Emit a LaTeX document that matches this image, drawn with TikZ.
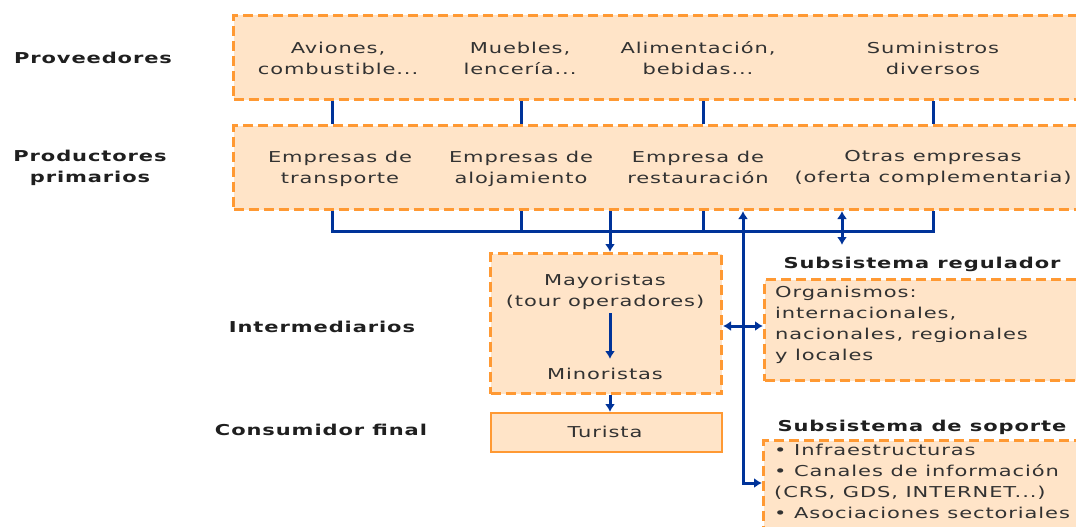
\documentclass[tikz,border=0pt]{standalone}
\usepackage{fontspec}
\setmainfont{DejaVu Sans}[FakeStretch=1.4,LetterSpace=6]
\usetikzlibrary{arrows.meta}
\definecolor{peach}{RGB}{255,228,200}
\definecolor{orng}{RGB}{255,153,51}
\definecolor{navy}{RGB}{0,51,153}
\definecolor{txtgray}{RGB}{50,50,50}
\begin{document}
\begin{tikzpicture}[x=1pt,y=-1pt,
 dbox/.style={draw=orng, fill=peach, line width=3pt, dash pattern=on 10pt off 5pt, inner sep=0pt, anchor=north west},
 sbox/.style={draw=orng, fill=peach, line width=1.6pt, inner sep=0pt, anchor=north west},
 txt/.style={text=txtgray, font=\fontsize{15}{21}\selectfont, align=center, inner sep=0pt,
   execute at begin node=\strut, execute at end node=\strut},
 lbl/.style={text=black!88, font=\fontsize{15}{21}\selectfont\bfseries, align=center, inner sep=0pt,
   execute at begin node=\strut, execute at end node=\strut},
 conn/.style={draw=navy, line width=3pt},
 arr/.style={conn, -{Latex[length=8pt,width=10pt]}},
 darr/.style={conn, {Latex[length=8pt,width=10pt]}-{Latex[length=8pt,width=10pt]}},
]
\useasboundingbox (0,0) rectangle (1076,527);
\clip (0,0) rectangle (1076,527);

% boxes
\node[dbox, minimum width=860pt, minimum height=84pt] (prov) at (232,14) {};
\node[dbox, minimum width=860pt, minimum height=84pt] (prod) at (232,124) {};
\node[dbox, minimum width=231pt, minimum height=140pt] (may) at (489,252) {};
\node[sbox, minimum width=231pt, minimum height=39pt] (tur) at (490,412) {};
\node[dbox, minimum width=330pt, minimum height=101pt] (reg) at (763,278) {};
\node[dbox, minimum width=330pt, minimum height=110pt] (sop) at (762,439) {};

% row labels
\node[lbl] (l1) at (93,59) {Proveedores};
\node[lbl] (l2) at (90,169) {Productores\\primarios};
\node[lbl] (l3) at (322,328) {Intermediarios};
\node[lbl] (l4) at (321,431) {Consumidor final};
\node[lbl] (regt) at (922,264) {Subsistema regulador};
\node[lbl] (sopt) at (922,427) {Subsistema de soporte};

% proveedores
\node[txt] (p1) at (338,61.5) {Aviones,\\combustible...};
\node[txt] (p2) at (520,61.5) {Muebles,\\lencería...};
\node[txt] (p3) at (698,61.5) {Alimentación,\\bebidas...};
\node[txt] (p4) at (933,61.5) {Suministros\\diversos};

% productores
\node[txt] (q1) at (340,170) {Empresas de\\transporte};
\node[txt] (q2) at (521,170) {Empresas de\\alojamiento};
\node[txt] (q3) at (698,170) {Empresa de\\restauración};
\node[txt] (q4) at (933,170) {Otras empresas\\(oferta complementaria)};

% intermediarios
\node[txt] (may1) at (605,293.5) {Mayoristas\\(tour operadores)};
\node[txt] (min) at (605,375) {Minoristas};
\node[txt] (turt) at (605,433) {Turista};

% regulador / soporte texts
\node[txt, align=left, anchor=north west] (regtx) at (775,285.5) {Organismos:\\internacionales,\\nacionales, regionales\\y locales};
\node[txt, align=left, anchor=north west] (soptx) at (774,444) {• Infraestructuras\\• Canales de información\\(CRS, GDS, INTERNET...)\\• Asociaciones sectoriales};

% connector x positions
\coordinate (xa) at (332,0);
\coordinate (xb) at (521,0);
\coordinate (xc) at (703,0);
\coordinate (xd) at (933,0);
\coordinate (xm) at (610,0);
\coordinate (xv) at (743,0);
\coordinate (xr) at (842,0);
\coordinate (ybr) at (0,231);
\coordinate (ysop) at (0,483);
\coordinate (yh) at (0,326);
\coordinate (yrt) at (0,245);
\coordinate (ymt) at (0,313);
\coordinate (ymb) at (0,359);

\foreach \c in {xa,xb,xc,xd}
  \draw[conn] (\c |- prov.south) -- (\c |- prod.north);
\draw[conn, line join=miter] (xa |- prod.south) |- (xd |- ybr) -- (xd |- prod.south);
\draw[conn] (xb |- prod.south) -- (xb |- ybr);
\draw[conn] (xc |- prod.south) -- (xc |- ybr);
\draw[arr] (xm |- prod.south) -- (xm |- may.north);
\draw[darr, line join=miter] (xv |- prod.south) |- (sop.west |- ysop);
\draw[darr] (xr |- prod.south) -- (xr |- yrt);
\draw[darr] (may.east |- yh) -- (reg.west |- yh);
\draw[arr] (xm |- ymt) -- (xm |- ymb);
\draw[arr] (xm |- may.south) -- (xm |- tur.north);
\end{tikzpicture}
\end{document}
